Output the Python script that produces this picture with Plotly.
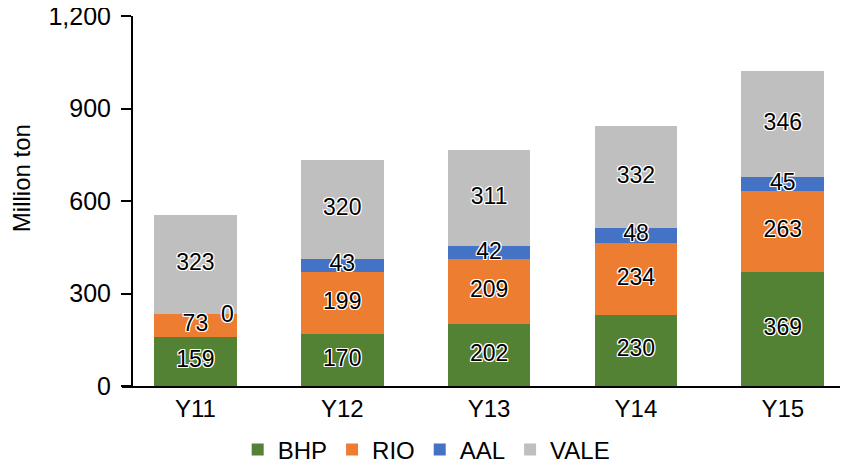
import plotly.graph_objects as go

categories = ["Y11", "Y12", "Y13", "Y14", "Y15"]
bhp = [159, 170, 202, 230, 369]
rio = [73, 199, 209, 234, 263]
aal = [0, 43, 42, 48, 45]
vale = [323, 320, 311, 332, 346]
series_names = ["BHP", "RIO", "AAL", "VALE"]
series_values = [bhp, rio, aal, vale]
colors = ["#548235", "#ED7D31", "#4472C4", "#BFBFBF"]
y_ticks = [0, 300, 600, 900, 1200]

FONT = "Liberation Sans, Arial, Helvetica, sans-serif"
HALO = "-1px -1px 0 #fff, 1px -1px 0 #fff, -1px 1px 0 #fff, 1px 1px 0 #fff, 0 1px 0 #fff, 0 -1px 0 #fff, 1px 0 0 #fff, -1px 0 0 #fff"

fig = go.Figure()
for name, vals, col in zip(series_names, series_values, colors):
    fig.add_trace(go.Bar(x=categories, y=vals, name=name, marker=dict(color=col, line=dict(width=0))))

# data labels at segment midpoints
base = [0] * len(categories)
zero_annots = []
for name, vals in zip(series_names, series_values):
    xs, ys, ts = [], [], []
    for i, v in enumerate(vals):
        if v == 0:
            zero_annots.append((categories[i], base[i], v))
        else:
            xs.append(categories[i])
            ys.append(base[i] + v / 2)
            ts.append(str(v))
        base[i] += v
    fig.add_trace(go.Scatter(x=xs, y=ys, text=ts, mode="text", showlegend=False, hoverinfo="skip",
                             textposition="middle center",
                             textfont=dict(family=FONT, size=23, color="#000", shadow=HALO)))

for cat, yv, v in zero_annots:
    fig.add_annotation(x=cat, y=yv, text=str(v), showarrow=False, xshift=32, yshift=0,
                       font=dict(family=FONT, size=23, color="#000", shadow=HALO))

fig.add_annotation(x=-0.139, y=0.562, xref="paper", yref="paper", text="Million ton", textangle=-90,
                   xanchor="center", yanchor="middle",
                   showarrow=False, font=dict(family=FONT, size=24, color="#000"))

# page body has an 8px margin, so the figure is sized 8px smaller to fit the window
fig.update_layout(
    barmode="stack",
    bargap=0.437,
    width=840, height=458,
    margin=dict(l=114, r=0, t=8, b=80, autoexpand=False),
    paper_bgcolor="white", plot_bgcolor="white",
    font=dict(family=FONT, color="#000"),
    legend=dict(orientation="h", x=0.419, y=-0.173, xanchor="center", yanchor="middle",
                font=dict(family=FONT, size=24, color="#000"), traceorder="normal"),
    xaxis=dict(type="category", categoryorder="array", categoryarray=categories,
               range=[-0.5, 4.444], showline=True, linecolor="#000", linewidth=2,
               ticks="", showgrid=False, tickfont=dict(family=FONT, size=24, color="#000"),
               domain=[0, 1], automargin=False),
    yaxis=dict(range=[0, 1200], tickvals=y_ticks, tickformat=",", showline=True, linecolor="#000",
               linewidth=2, ticks="outside", ticklen=10, tickwidth=1.5, tickcolor="#000",
               showgrid=False, zeroline=False, anchor="free", position=10 / 726,
               ticklabelstandoff=5, automargin=False, ticklabeloverflow="allow",
               tickfont=dict(family=FONT, size=25, color="#000")),
)

fig.write_html("out.html")
